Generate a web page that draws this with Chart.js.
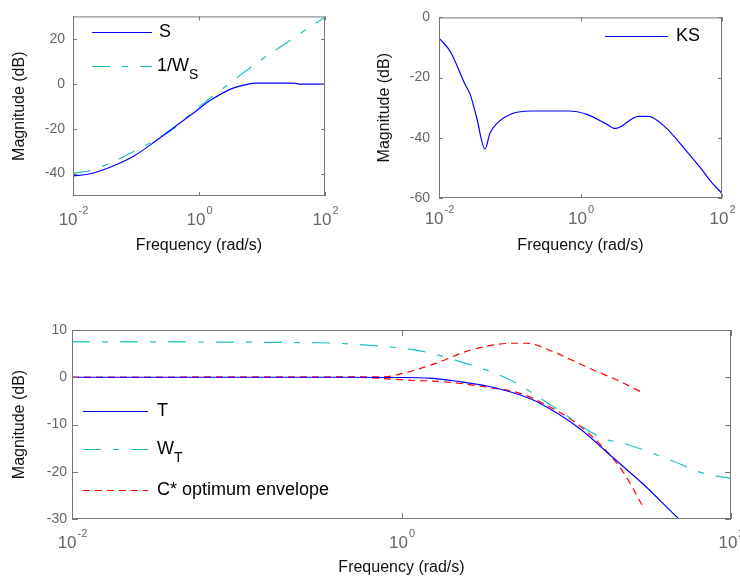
<!DOCTYPE html>
<html>
<head>
<meta charset="utf-8">
<script src="https://cdn.jsdelivr.net/npm/chart.js@4"></script>
<style>
body { margin: 0; background: #fff; }
#wrap { position: relative; width: 740px; height: 581px; }
canvas { position: absolute; }
</style>
</head>
<body>
<div id="wrap">
  <canvas id="cS" width="340" height="260" style="left:0;top:0"></canvas>
  <canvas id="cKS" width="380" height="260" style="left:360px;top:0"></canvas>
  <canvas id="cT" width="740" height="271" style="left:0;top:310px"></canvas>
</div>
<script>
// Data (frequency in rad/s, magnitude in dB)
const sFreq = [0.01, 0.018, 0.032, 0.09, 0.21, 0.5, 1.0, 1.5, 3.1, 5.0, 7.8, 32, 40, 100];
const sMag  = [-41, -40.2, -38.1, -32.4, -25.3, -17.5, -11.1, -7.5, -2.5, -0.7, 0.3, 0.3, -0.2, -0.2];

const wsFreq = [0.01, 0.02, 0.039, 0.1, 0.35, 1.0, 3.1, 9.3, 22, 69, 100];
const wsMag  = [-39.8, -38.5, -35.3, -29.6, -21, -10.3, 0.3, 10.3, 17.4, 26.7, 29.5];

const ksFreq = [0.01, 0.0145, 0.0234, 0.0275, 0.0339, 0.0447, 0.0525, 0.066, 0.107, 0.204, 0.676, 1.23, 2.24, 3.09, 6.61, 9.12, 15.5, 30.2, 51.3, 70.8, 100];
const ksMag  = [-6.9, -11.4, -22.3, -25.5, -33.1, -43.7, -38.5, -35.2, -32, -31.1, -31.1, -32.2, -35.2, -36.9, -32.9, -32.9, -36.3, -43.9, -50.4, -54.7, -58.5];

const tFreq = [0.01, 0.3, 1.0, 1.48, 2.24, 3.31, 5.25, 6.92, 12, 19.5, 29.5, 49, 56];
const tMag  = [0, 0, -0.05, -0.2, -0.9, -1.85, -3.76, -5.5, -10.8, -17.2, -22.7, -30.2, -32];

const wtFreq = [0.01, 0.31, 0.62, 1.29, 2.04, 4.57, 8.32, 16.6, 22.4, 42.7, 67.6, 100];
const wtMag  = [7.5, 7.3, 6.8, 5.6, 3.8, -0.58, -6.2, -12.9, -14.0, -17.5, -20.3, -21.4];

const cUpFreq = [0.01, 0.79, 1.02, 1.62, 2.63, 4.79, 5.75, 8.32, 13.2, 21.4, 29.5];
const cUpMag  = [0, 0.1, 0.84, 2.95, 5.77, 7.2, 7.2, 5.4, 2.2, -0.95, -3.4];
const cLoFreq = [0.01, 0.5, 0.79, 1.07, 1.86, 3.31, 5.25, 7.59, 11.5, 16.6, 22.4, 28.8];
const cLoMag  = [0, 0, -0.3, -0.6, -1.0, -2.1, -3.4, -5.9, -9.7, -14.7, -20.3, -27];

const xTickExps = [-2, 0, 2];
const sTicks = [-40, -20, 0, 20];
const ksTicks = [-60, -40, -20, 0];
const tTicks = [-30, -20, -10, 0, 10];

const FONT = "'Liberation Sans', Arial, sans-serif";
const BLUE = '#0000ff', CYAN = '#1fbfbf', RED = '#ff0000';
const DASHDOT = [18, 12, 6, 12], DASH = [7, 5];

const pts = (f, m) => f.map((v, i) => ({ x: v, y: m[i] }));

// boxed axes, inward ticks, 10^n labels and legend, MATLAB style
const matlabAxes = {
    id: 'matlabAxes',
    afterDraw(chart, args, opts) {
        const { ctx, chartArea: a, scales: { x, y } } = chart;
        ctx.save();
        ctx.strokeStyle = '#777';
        ctx.lineWidth = 1;
        ctx.setLineDash([]);
        ctx.strokeRect(a.left + 0.5, a.top + 0.5, a.right - a.left - 1, a.bottom - a.top - 1);
        ctx.beginPath();
        y.ticks.forEach(t => {
            const py = Math.round(y.getPixelForValue(t.value)) + 0.5;
            ctx.moveTo(a.left, py); ctx.lineTo(a.left + opts.tickLen, py);
            ctx.moveTo(a.right, py); ctx.lineTo(a.right - opts.tickLen, py);
        });
        xTickExps.forEach(e => {
            const px = Math.round(x.getPixelForValue(Math.pow(10, e))) + 0.5;
            ctx.moveTo(px, a.bottom); ctx.lineTo(px, a.bottom - opts.tickLen);
            ctx.moveTo(px, a.top); ctx.lineTo(px, a.top + opts.tickLen);
        });
        ctx.stroke();

        // x tick labels
        ctx.fillStyle = '#666';
        ctx.textBaseline = 'alphabetic';
        ctx.textAlign = 'left';
        xTickExps.forEach(e => {
            const px = x.getPixelForValue(Math.pow(10, e));
            const exp = String(e);
            ctx.font = '17px ' + FONT;
            const w1 = ctx.measureText('10').width;
            ctx.font = '11px ' + FONT;
            const w2 = ctx.measureText(exp).width;
            const x0 = px - (w1 + w2) / 2;
            const base = a.bottom + opts.labelDy;
            ctx.font = '17px ' + FONT;
            ctx.fillText('10', x0, base);
            ctx.font = '11px ' + FONT;
            ctx.fillText(exp, x0 + w1 + 1, base - 11);
        });

        // legend
        ctx.textBaseline = 'middle';
        opts.legend.forEach(it => {
            ctx.strokeStyle = it.color;
            ctx.lineWidth = 1;
            ctx.setLineDash(it.dash);
            ctx.beginPath();
            ctx.moveTo(it.x0, it.y + 0.5);
            ctx.lineTo(it.x1, it.y + 0.5);
            ctx.stroke();
            ctx.fillStyle = '#000';
            ctx.font = '18px ' + FONT;
            ctx.fillText(it.label, it.tx, it.y);
            if (it.sub) {
                const w = ctx.measureText(it.label).width;
                ctx.font = '14px ' + FONT;
                ctx.fillText(it.sub, it.tx + w, it.y + 9);
            }
        });
        ctx.restore();
    }
};

function makeChart(id, datasets, cfg) {
    return new Chart(document.getElementById(id), {
        type: 'line',
        data: { datasets: datasets },
        options: {
            responsive: false,
            animation: false,
            devicePixelRatio: 1,
            layout: { autoPadding: false, padding: cfg.padding },
            elements: { point: { radius: 0 }, line: { borderWidth: 1.2, cubicInterpolationMode: 'monotone' } },
            plugins: {
                legend: { display: false },
                tooltip: { enabled: false },
                matlabAxes: cfg.axes
            },
            scales: {
                x: {
                    type: 'logarithmic',
                    min: 0.01,
                    max: 100,
                    grid: { display: false, drawTicks: false },
                    border: { display: false },
                    ticks: { display: false },
                    afterFit: s => { s.height = cfg.xHeight; },
                    title: {
                        display: true,
                        text: 'Frequency (rad/s)',
                        color: '#111',
                        font: { family: FONT, size: 16 },
                        padding: { top: 0, bottom: cfg.xTitlePad }
                    }
                },
                y: {
                    min: cfg.yMin,
                    max: cfg.yMax,
                    grid: { display: false, drawTicks: false },
                    border: { display: false },
                    afterBuildTicks: s => { s.ticks = cfg.yTicks.map(v => ({ value: v })); },
                    afterFit: s => { s.width = cfg.yWidth; },
                    ticks: {
                        color: '#666',
                        padding: cfg.yTickPad,
                        font: { family: FONT, size: 14 }
                    },
                    title: {
                        display: true,
                        text: 'Magnitude (dB)',
                        color: '#111',
                        font: { family: FONT, size: 16 },
                        padding: { top: cfg.yTitlePad, bottom: 0 }
                    }
                }
            }
        },
        plugins: [matlabAxes]
    });
}

makeChart('cS', [
    { data: pts(sFreq, sMag), borderColor: BLUE },
    { data: pts(wsFreq, wsMag), borderColor: CYAN, borderDash: DASHDOT }
], {
    padding: { left: 0, right: 15, top: 10, bottom: 0 },
    xHeight: 64, yWidth: 73, yMin: -50, yMax: 30, yTicks: sTicks,
    yTickPad: 8, yTitlePad: 10, xTitlePad: 5,
    axes: {
        tickLen: 4, labelDy: 29,
        legend: [
            { label: 'S', color: BLUE, dash: [], x0: 92, x1: 152, y: 32, tx: 159 },
            { label: '1/W', sub: 'S', color: CYAN, dash: DASHDOT, x0: 92, x1: 152, y: 66, tx: 157 }
        ]
    }
});

makeChart('cKS', [
    { data: pts(ksFreq, ksMag), borderColor: BLUE }
], {
    padding: { left: 0, right: 18, top: 12, bottom: 0 },
    xHeight: 62, yWidth: 79, yMin: -60, yMax: 0, yTicks: ksTicks,
    yTickPad: 9, yTitlePad: 15, xTitlePad: 5,
    axes: {
        tickLen: 4, labelDy: 26,
        legend: [
            { label: 'KS', color: BLUE, dash: [], x0: 245, x1: 308, y: 36, tx: 316 }
        ]
    }
});

makeChart('cT', [
    { data: pts(tFreq, tMag), borderColor: BLUE },
    { data: pts(wtFreq, wtMag), borderColor: CYAN, borderDash: DASHDOT },
    { data: pts(cUpFreq, cUpMag), borderColor: RED, borderDash: DASH },
    { data: pts(cLoFreq, cLoMag), borderColor: RED, borderDash: DASH }
], {
    padding: { left: 0, right: 9, top: 20, bottom: 0 },
    xHeight: 62, yWidth: 72, yMin: -30, yMax: 10, yTicks: tTicks,
    yTickPad: 5, yTitlePad: 10, xTitlePad: 4,
    axes: {
        tickLen: 6, labelDy: 29,
        legend: [
            { label: 'T', color: BLUE, dash: [], x0: 83, x1: 148, y: 101, tx: 157 },
            { label: 'W', sub: 'T', color: CYAN, dash: DASHDOT, x0: 83, x1: 148, y: 139, tx: 157 },
            { label: 'C* optimum envelope', color: RED, dash: DASH, x0: 83, x1: 148, y: 180, tx: 157 }
        ]
    }
});
</script>
</body>
</html>
